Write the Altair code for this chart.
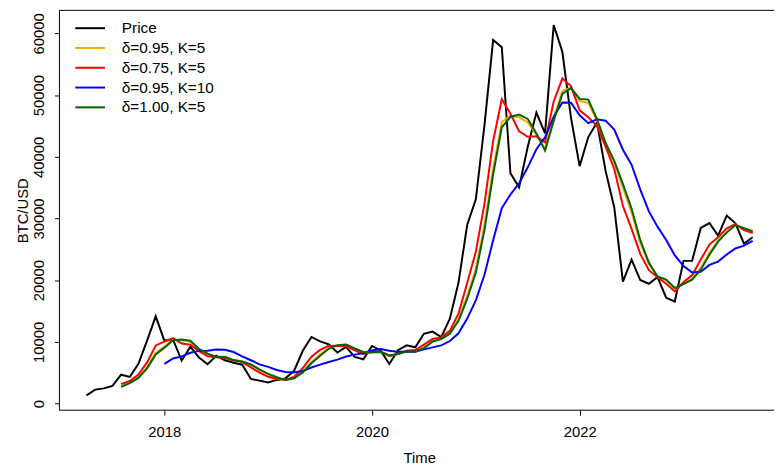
import altair as alt
import pandas as pd

# Monthly observations, April 2017 .. September 2023
first_year, first_month, n_months = 2017, 4, 78
months = []
for k in range(n_months):
    mm = first_month - 1 + k
    months.append(f"{first_year + mm // 12}-{mm % 12 + 1:02d}")

price = [1348, 2286, 2480, 2875, 4703, 4338, 6468, 10233, 14156,
         10221, 10397, 6973, 9240, 7494, 6404, 7780, 7037, 6625, 6318, 4017, 3742,
         3457, 3854, 4105, 5350, 8574, 10817, 10085, 9630, 8293, 9199, 7569, 7193,
         9350, 8600, 6438, 8658, 9462, 9137, 11323, 11681, 10785, 13781, 19625, 28949,
         33114, 45137, 58918, 57750, 37332, 35041, 41626, 47167, 43791, 61318, 57005, 46306,
         38483, 43194, 45538, 37715, 31792, 19785, 23337, 20050, 19432, 20496, 17168, 16548,
         23139, 23147, 28478, 29268, 27219, 30477, 29230, 25932, 26968]

d095_k5 = [2814, 3401, 4270, 5894, 8236,
           9279, 10371, 10288, 10066, 8798, 8025, 7565, 7550, 7057, 6818, 6270, 5453,
           4741, 4223, 3838, 4142, 5190, 6730, 7963, 8992, 9460, 9554, 8899, 8319,
           8323, 8389, 7820, 8048, 8507, 8502, 9108, 10134, 10530, 11431, 13635, 17415,
           21865, 28904, 38124, 45626, 46645, 46394, 45555, 43626, 41247, 46353, 50642, 51225,
           49103, 48706, 45848, 42143, 39143, 34977, 30999, 26093, 22633, 20594, 19975, 18643,
           19396, 20219, 21997, 24430, 26394, 27853, 28963, 28376, 27912]

d075_k5 = [3162, 3688, 4709, 6693, 9436,
           10062, 10617, 9745, 9542, 8512, 7688, 7507, 7395, 6999, 6737, 5872, 5025,
           4355, 4014, 3865, 4340, 5774, 7607, 8711, 9371, 9330, 9346, 8649, 8060,
           8361, 8445, 7728, 8045, 8576, 8700, 9567, 10504, 10740, 11836, 14599, 19557,
           24614, 32417, 42553, 49318, 46974, 44140, 43239, 43307, 42342, 48952, 52674, 51446,
           47530, 46399, 44957, 41646, 38053, 32032, 28314, 24265, 21635, 20471, 19442, 18190,
           19668, 20827, 23360, 25779, 26969, 28417, 29093, 28105, 27642]

d095_k10 = [6459, 7331, 7663, 8246, 8553, 8572, 8790, 8744, 8369, 7682, 7036, 6375,
            5966, 5459, 5138, 5070, 5305, 5862, 6332, 6744, 7140, 7650, 7953, 8164,
            8615, 8856, 8576, 8419, 8425, 8424, 8795, 9124, 9447, 10155, 11395, 13791,
            16748, 20889, 26480, 31670, 33894, 35694, 38292, 41226, 43157, 46480, 48789, 48752,
            46714, 45452, 46069, 45850, 44414, 41140, 38724, 34711, 31144, 28686, 26519, 24033,
            22317, 21272, 21385, 22487, 23013, 24164, 25148, 25593, 26393]

d100_k5 = [2738, 3336, 4173, 5723, 7980,
           9083, 10295, 10396, 10197, 8865, 8102, 7578, 7591, 7068, 6833, 6355, 5548,
           4832, 4278, 3835, 4102, 5068, 6540, 7786, 8891, 9480, 9605, 8955, 8377,
           8321, 8382, 7830, 8048, 8502, 8459, 9004, 10052, 10478, 11341, 13439, 16964,
           21251, 28121, 37149, 44774, 46450, 46836, 46133, 43783, 40991, 45789, 50181, 51117,
           49381, 49261, 46105, 42247, 39344, 35605, 31633, 26536, 22879, 20620, 20097, 18739,
           19357, 20100, 21696, 24116, 26250, 27718, 28934, 28425, 27965]

labels = ["Price", "δ=0.95, K=5", "δ=0.75, K=5", "δ=0.95, K=10", "δ=1.00, K=5"]
colors = ["#000000", "#FFA500", "#FF0000", "#0000FF", "#006400"]
series_values = [price, d095_k5, d075_k5, d095_k10, d100_k5]
x_ticks = [2018, 2020, 2022]
y_ticks = [0, 10000, 20000, 30000, 40000, 50000, 60000]


def year_fraction(m):
    y, mo = m.split("-")
    return int(y) + (int(mo) - 1) / 12


rows = []
for name, vals in zip(labels, series_values):
    off = len(months) - len(vals)
    for m, v in zip(months[off:], vals):
        rows.append({"t": year_fraction(m), "value": v, "series": name})
df = pd.DataFrame(rows)

W, H = 722, 404
FONT = "Liberation Sans"

x_enc = alt.X(
    "t:Q",
    scale=alt.Scale(domain=[2016.9895, 2023.872], nice=False, zero=False),
    axis=alt.Axis(values=x_ticks, format="d", title="Time", labelPadding=10,
                  titleX=363.5, titleY=48, titleAlign="center", titleBaseline="middle"),
)
y_enc = alt.Y(
    "value:Q",
    scale=alt.Scale(domain=[-1051, 63717], nice=False, zero=False),
    axis=alt.Axis(values=y_ticks, format="d", title="BTC/USD", labelAngle=-90,
                  labelAlign="center", labelBaseline="bottom", labelPadding=8,
                  titleAngle=-90, titleX=-37.5, titleY=202, titleAlign="center",
                  titleBaseline="middle"),
)
color_enc = alt.Color(
    "series:N",
    scale=alt.Scale(domain=labels, range=colors),
    legend=alt.Legend(
        title=None, orient="none", legendX=21, legendY=8,
        symbolType="M-1.67,0H1.67", symbolSize=324, symbolStrokeWidth=2,
        labelFont=FONT, labelFontSize=15.5, labelColor="black", labelOffset=22,
        rowPadding=1, padding=0,
    ),
    sort=labels,
)

layers = []
for name in labels:
    layers.append(
        alt.Chart(df)
        .transform_filter(alt.datum.series == name)
        .mark_line(strokeWidth=2, clip=True)
        .encode(x=x_enc, y=y_enc, color=color_enc)
    )

box_src = alt.Chart(pd.DataFrame({"k": [0]}))
box_left = box_src.mark_rule(color="black", strokeWidth=1).encode(
    x=alt.value(0), y=alt.value(0), y2=alt.value(H))
box_top = box_src.mark_rule(color="black", strokeWidth=1).encode(
    y=alt.value(0), x=alt.value(0), x2=alt.value(W + 5))
box_bottom = box_src.mark_rule(color="black", strokeWidth=1).encode(
    y=alt.value(H), x=alt.value(0), x2=alt.value(W + 5))

chart = (
    alt.layer(*layers, box_left, box_top, box_bottom)
    .properties(width=W, height=H, autosize=alt.AutoSizeParams(type="none"),
                padding={"left": 52, "top": 0, "right": 0, "bottom": 54})
    .configure_view(stroke=None)
    .configure_axis(labelFont=FONT, labelFontSize=15, labelColor="black",
                    titleFont=FONT, titleFontSize=15, titleFontWeight="normal",
                    titleColor="black", tickColor="black", tickSize=5, tickWidth=1,
                    domain=False, grid=False)
)

chart.save("out.html", embed_options={"renderer": "svg", "actions": False})
